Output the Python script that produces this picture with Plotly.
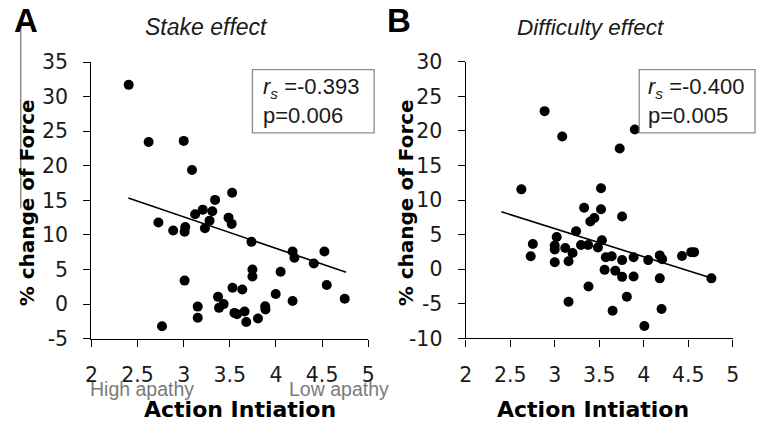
import plotly.graph_objects as go

# ---------------- data ----------------
stake_x = [2.404, 2.62, 3.0, 3.09, 2.726, 2.886, 3.017, 3.01, 3.124, 3.206, 3.31, 3.28, 3.23,
           3.34, 3.525, 3.486, 3.52, 3.734, 4.18, 4.20, 4.525, 4.41, 4.55, 4.745, 4.18, 4.05,
           3.997, 3.883, 3.886, 3.805, 3.678, 3.66, 3.578, 3.55, 3.529, 3.635, 3.745, 3.745,
           3.372, 3.383, 3.433, 3.152, 3.152, 3.01, 2.765]
stake_y = [31.7, 23.45, 23.6, 19.4, 11.8, 10.65, 11.15, 10.45, 13.0, 13.66, 13.43, 12.07, 10.97,
           15.07, 16.1, 12.5, 11.6, 9.0, 7.6, 6.7, 7.6, 5.86, 2.77, 0.77, 0.45, 4.69,
           1.45, -0.32, -0.77, -2.09, -2.58, -1.08, -1.45, -1.27, 2.37, 2.1, 5.0, 4.0,
           1.05, -0.54, 0.0, -0.36, -1.96, 3.4, -3.2]
stake_fit_x = [2.40, 4.76]
stake_fit_y = [15.35, 4.6]

diff_x = [2.625, 2.754, 2.73, 3.022, 3.0, 3.0, 3.0, 3.118, 3.155, 3.2, 3.24, 3.155, 3.295, 3.375,
          3.33, 3.40, 3.445, 3.52, 3.52, 3.53, 3.485, 3.379, 3.574, 3.64, 3.56, 3.68, 3.757,
          3.757, 3.757, 3.65, 3.81, 3.886, 3.886, 4.05, 4.007, 4.18, 4.206, 4.18, 4.20, 4.43,
          4.533, 4.566, 4.76, 2.886, 3.084, 3.73, 3.90]
diff_y = [11.55, 3.65, 1.88, 4.66, 3.43, 2.85, 1.02, 3.07, 1.15, 2.34, 5.5, -4.7, 3.5, 3.5,
          8.9, 6.9, 7.4, 11.7, 8.67, 4.2, 3.15, -2.5, 1.73, 1.87, -0.09, -0.23, -1.1,
          1.32, 7.63, -6.0, -3.97, 1.73, -1.05, 1.32, -8.2, 2.0, 1.46, -1.32, -5.75, 1.92,
          2.47, 2.47, -1.32, 22.86, 19.2, 17.45, 20.2]
diff_fit_x = [2.40, 4.76]
diff_fit_y = [8.31, -1.28]

x_ticks = [2, 2.5, 3, 3.5, 4, 4.5, 5]
x_ticktext = ["2", "2.5", "3", "3.5", "4", "4.5", "5"]
stake_yticks = [-5, 0, 5, 10, 15, 20, 25, 30, 35]
stake_yticktext = ["-5", "0", "5", "10", "15", "20", "25", "30", "35"]
diff_yticks = [-10, -5, 0, 5, 10, 15, 20, 25, 30]
diff_yticktext = ["-10", "-5", "0", "5", "10", "15", "20", "25", "30"]

panel_titles = ["Stake effect", "Difficulty effect"]
panel_letters = ["A", "B"]
stats = ["<i>r</i><sub><i>s</i></sub> =-0.393<br>p=0.006",
         "<i>r</i><sub><i>s</i></sub> =-0.400<br>p=0.005"]
x_title = "Action Intiation"
y_title = "% change of Force"

# ---------------- layout helpers ----------------
W, H = 764, 430
def px(x):
    return x / W
def py(y):
    return 1 - y / H

TICKFONT = dict(family="DejaVu Sans, Verdana", size=20.5, color="#1a1a1a")
BOLD = "DejaVu Sans, Verdana"
ARIAL = "Liberation Sans, Arial"

fig = go.Figure()

marker = dict(color="black", size=10, line=dict(width=0))
fig.add_trace(go.Scatter(x=stake_x, y=stake_y, mode="markers", marker=marker,
                         xaxis="x", yaxis="y", showlegend=False))
fig.add_trace(go.Scatter(x=stake_fit_x, y=stake_fit_y, mode="lines",
                         line=dict(color="black", width=1.6), xaxis="x", yaxis="y",
                         showlegend=False))
fig.add_trace(go.Scatter(x=diff_x, y=diff_y, mode="markers", marker=marker,
                         xaxis="x2", yaxis="y2", showlegend=False))
fig.add_trace(go.Scatter(x=diff_fit_x, y=diff_fit_y, mode="lines",
                         line=dict(color="black", width=1.6), xaxis="x2", yaxis="y2",
                         showlegend=False))

axis_common = dict(showgrid=False, zeroline=False, showline=True, linecolor="black",
                   linewidth=1.4, ticks="outside", ticklen=7, tickwidth=1.4,
                   tickcolor="black", tickfont=TICKFONT)

fig.update_layout(
    width=W, height=H,
    margin=dict(l=0, r=0, t=0, b=0),
    paper_bgcolor="white", plot_bgcolor="white",
    xaxis=dict(domain=[px(86), px(368)], range=[2, 5], tickvals=x_ticks,
               ticktext=x_ticktext, anchor="y", ticklabelstandoff=11, **axis_common),
    yaxis=dict(domain=[py(346), py(53)], range=[-5, 35], tickvals=stake_yticks,
               ticktext=stake_yticktext, anchor="x", ticklabelstandoff=11, **axis_common),
    xaxis2=dict(domain=[px(467.3), px(739.3)], range=[2, 5], tickvals=x_ticks,
                ticktext=x_ticktext, anchor="y2", ticklabelstandoff=11, **axis_common),
    yaxis2=dict(domain=[py(345.7), py(52.7)], range=[-10, 30], tickvals=diff_yticks,
                ticktext=diff_yticktext, anchor="x2", ticklabelstandoff=11, **axis_common),
)

ann = []
# panel letters
ann.append(dict(text="<b>A</b>", x=px(5), y=py(9), xanchor="left", yanchor="middle",
                font=dict(family=ARIAL, size=33, color="black")))
ann.append(dict(text="<b>B</b>", x=px(385), y=py(9), xanchor="left", yanchor="middle",
                font=dict(family=ARIAL, size=33, color="black")))
# titles
ann.append(dict(text="<i>" + panel_titles[0] + "</i>", x=px(203), y=py(16),
                xanchor="center", yanchor="middle",
                font=dict(family=ARIAL, size=23, color="#1a1a1a")))
ann.append(dict(text="<i>" + panel_titles[1] + "</i>", x=px(595), y=py(16),
                xanchor="center", yanchor="middle",
                font=dict(family=ARIAL, size=22.5, color="#1a1a1a")))
# stats
ann.append(dict(text=stats[0], x=px(259), y=py(94), xanchor="left", yanchor="middle",
                align="left", font=dict(family=ARIAL, size=22, color="#1a1a1a")))
ann.append(dict(text=stats[1], x=px(651), y=py(94), xanchor="left", yanchor="middle",
                align="left", font=dict(family=ARIAL, size=22, color="#1a1a1a")))
# x titles
ann.append(dict(text="<b>" + x_title + "</b>", x=px(237), y=py(421), xanchor="center",
                yanchor="middle", font=dict(family=BOLD, size=22, color="black")))
ann.append(dict(text="<b>" + x_title + "</b>", x=px(597), y=py(421), xanchor="center",
                yanchor="middle", font=dict(family=BOLD, size=22, color="black")))
# y titles
ann.append(dict(text="<b>" + y_title + "</b>", x=px(20), y=py(202), xanchor="center",
                yanchor="middle", textangle=-90,
                font=dict(family=BOLD, size=20, color="black")))
ann.append(dict(text="<b>" + y_title + "</b>", x=px(406), y=py(202), xanchor="center",
                yanchor="middle", textangle=-90,
                font=dict(family=BOLD, size=20, color="black")))
# apathy labels
ann.append(dict(text="High apathy", x=px(83), y=py(399), xanchor="left", yanchor="middle",
                font=dict(family=ARIAL, size=19.5, color="#7a7a7a")))
ann.append(dict(text="Low apathy", x=px(391), y=py(399), xanchor="right", yanchor="middle",
                font=dict(family=ARIAL, size=19.5, color="#7a7a7a")))
for a in ann:
    a.update(xref="paper", yref="paper", showarrow=False)
fig.update_layout(annotations=ann)

fig.update_layout(shapes=[
    dict(type="rect", xref="paper", yref="paper", x0=px(250), x1=px(374), y0=py(128),
         y1=py(61), line=dict(color="#8c8c8c", width=1.3), fillcolor="rgba(0,0,0,0)"),
    dict(type="rect", xref="paper", yref="paper", x0=px(644), x1=px(762), y0=py(128),
         y1=py(61), line=dict(color="#8c8c8c", width=1.3), fillcolor="rgba(0,0,0,0)"),
    dict(type="line", xref="paper", yref="paper", x0=px(14), x1=px(14), y0=py(208),
         y1=py(8), line=dict(color="#8c8c8c", width=1.5)),
])

fig.write_html("out.html")
